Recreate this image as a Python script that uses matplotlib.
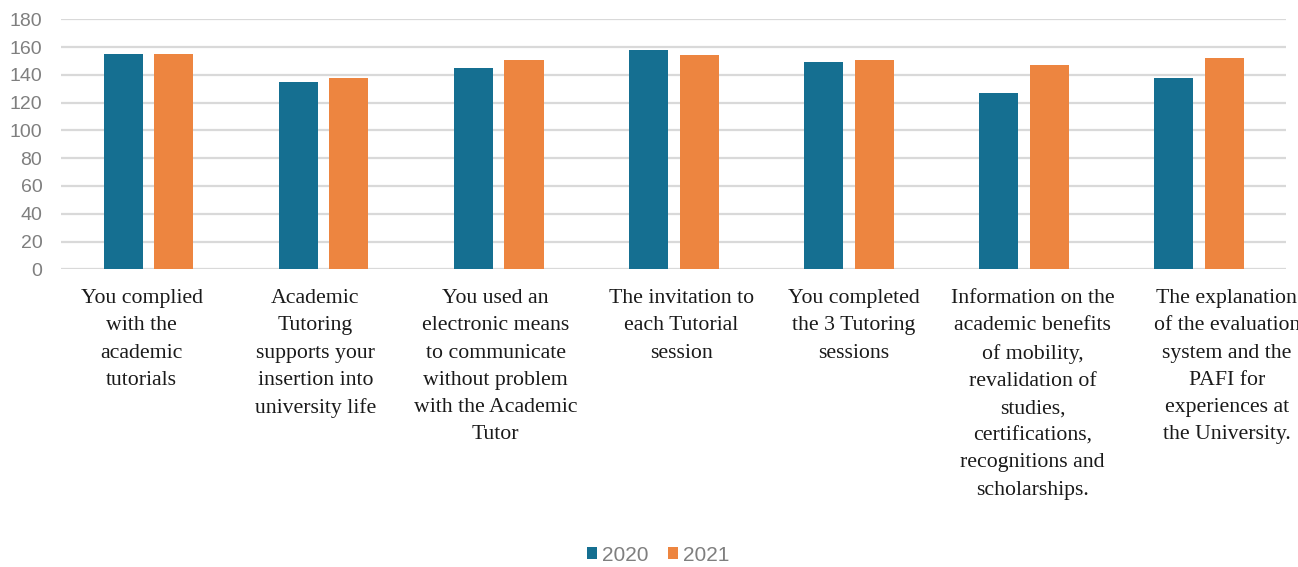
"""
Tutoring survey results 2020 vs 2021 - grouped bar chart
"""

import numpy as np
import matplotlib
matplotlib.use('Agg')
import matplotlib.pyplot as plt
from matplotlib.patches import Patch

# Data
categories = [
    "You complied\nwith the\nacademic\ntutorials",
    "Academic\nTutoring\nsupports your\ninsertion into\nuniversity life",
    "You used an\nelectronic means\nto communicate\nwithout problem\nwith the Academic\nTutor",
    "The invitation to\neach Tutorial\nsession",
    "You completed\nthe 3 Tutoring\nsessions",
    "Information on the\nacademic benefits\nof mobility,\nrevalidation of\nstudies,\ncertifications,\nrecognitions and\nscholarships.",
    "The explanation\nof the evaluation\nsystem and the\nPAFI for\nexperiences at\nthe University.",
]
values_2020 = [155, 135, 145, 158, 149, 127, 138]
values_2021 = [155, 138, 151, 154, 151, 147, 152]
series_names = ['2020', '2021']
yticks = [0, 20, 40, 60, 80, 100, 120, 140, 160, 180]

# label positions are slightly shifted in the original (category units)
label_shift = [-0.04, -0.046, -0.017, 0.043, 0.027, 0.05, 0.16]

BLUE = '#156F91'
ORANGE = '#ED8540'
GRID = '#D9D9D9'
GRAY = '#7F7F7F'

fig = plt.figure(figsize=(12.98, 5.67), dpi=100)
ax = fig.add_axes([0.047, 0.525, 0.944, 0.441])

x = np.arange(len(categories))
w = 0.223
off = 0.145
ax.bar(x - off, values_2020, width=w, color=BLUE, zorder=3)
ax.bar(x + off, values_2021, width=w, color=ORANGE, zorder=3)

ax.set_xlim(-0.5, len(categories) - 0.5)
ax.set_ylim(0, 180)
ax.set_yticks(yticks)
ax.set_xticks([])
ax.yaxis.grid(True, color=GRID, linewidth=1.6, zorder=0)
ax.tick_params(axis='y', length=0, pad=13.5, labelsize=14, labelcolor=GRAY)
for lbl in ax.get_yticklabels():
    lbl.set_family('Liberation Sans')
for s in ax.spines.values():
    s.set_visible(False)

# category labels under the axis
for i, txt in enumerate(categories):
    ax.text(i + label_shift[i], -0.08, txt, transform=ax.get_xaxis_transform(),
            ha='center', va='top', fontsize=15.7, family='Liberation Serif',
            color='#1a1a1a', linespacing=1.58, clip_on=False)

handles = [Patch(facecolor=BLUE, label=series_names[0]),
           Patch(facecolor=ORANGE, label=series_names[1])]
leg = fig.legend(handles=handles, loc='center', bbox_to_anchor=(0.507, 0.021),
                 ncol=2, frameon=False, handlelength=0.5, handleheight=0.5,
                 handletextpad=0.25, columnspacing=0.9,
                 prop={'family': 'Liberation Sans', 'size': 15})
for t in leg.get_texts():
    t.set_color(GRAY)

fig.savefig('out.png', dpi=100)
